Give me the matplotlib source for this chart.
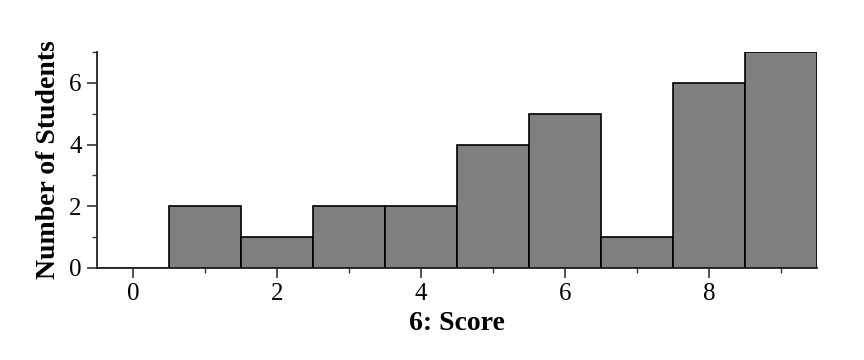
import numpy as np
import matplotlib
matplotlib.use("Agg")
import matplotlib.pyplot as plt
from matplotlib.ticker import MultipleLocator

plt.rcParams["font.family"] = ["Liberation Serif", "DejaVu Serif"]

scores = [0, 1, 2, 3, 4, 5, 6, 7, 8, 9]
counts = [0, 2, 1, 2, 2, 4, 5, 1, 6, 7]

fig = plt.figure(figsize=(8.64, 3.6), dpi=100)
ax = fig.add_axes([0.1123, 0.2556, 0.8333, 0.6])

ax.bar(scores, counts, width=1.0, color="#808080", edgecolor="black", linewidth=1.2)

ax.set_xlim(-0.5, 9.5)
ax.set_ylim(0, 7)
ax.xaxis.set_major_locator(MultipleLocator(2))
ax.xaxis.set_minor_locator(MultipleLocator(1))
ax.yaxis.set_major_locator(MultipleLocator(2))
ax.yaxis.set_minor_locator(MultipleLocator(1))
ax.tick_params(which="major", length=7, width=1.2, labelsize=18, color="#333333", pad=4)
ax.tick_params(which="minor", length=3.5, width=1.0, color="#333333")

for s in ["top", "right"]:
    ax.spines[s].set_visible(False)
for s in ["left", "bottom"]:
    ax.spines[s].set_linewidth(1.3)
    ax.spines[s].set_color("#222222")

ax.set_xlabel("6: Score", fontsize=20, fontweight="bold", labelpad=4)
ax.set_ylabel("Number of Students", fontsize=20, fontweight="bold", labelpad=6)

fig.savefig("out.png", dpi=100)
